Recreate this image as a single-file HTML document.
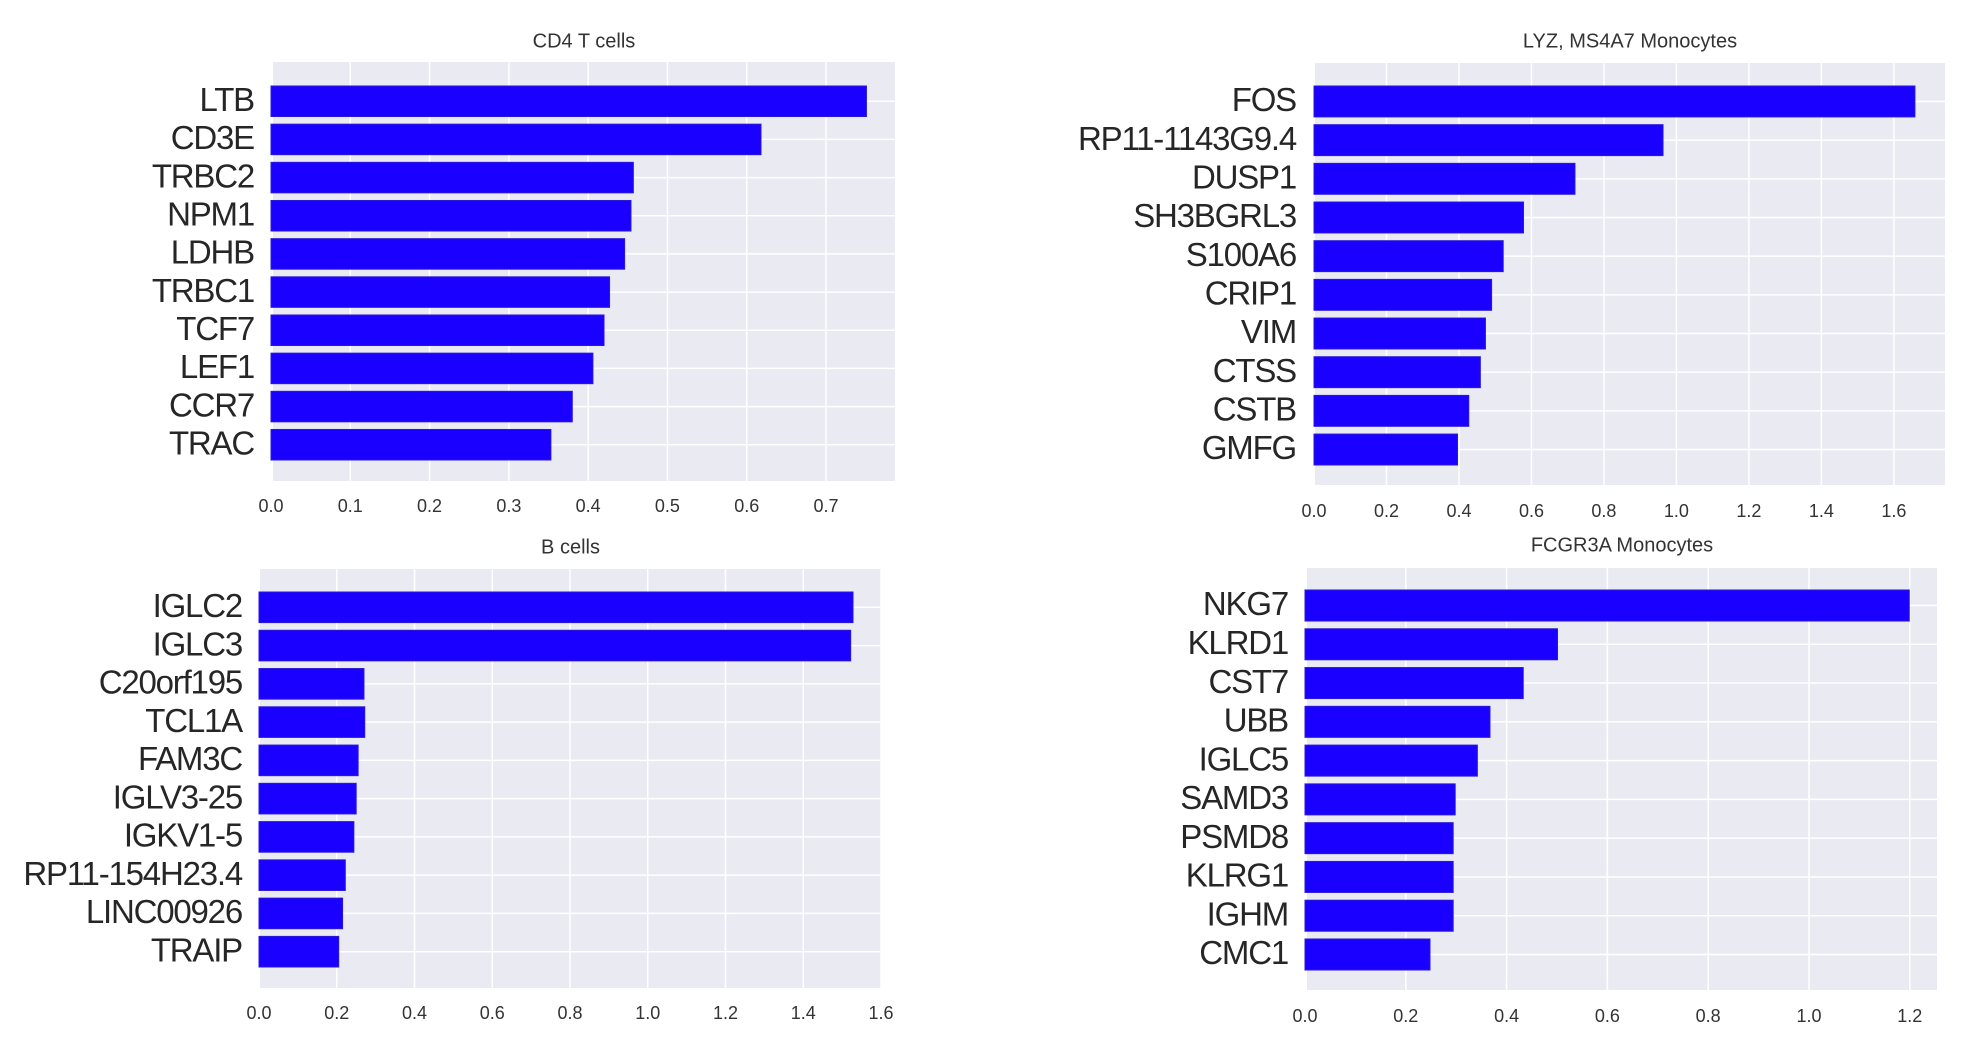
<!DOCTYPE html>
<html><head><meta charset="utf-8"><style>
html,body{margin:0;padding:0;background:#fff;}
svg{display:block;font-family:"Liberation Sans",sans-serif;}
</style></head><body>
<svg id="fig" width="1978" height="1048" viewBox="0 0 1978 1048" xmlns="http://www.w3.org/2000/svg"></svg>
<script>
const cd4Genes=["LTB","CD3E","TRBC2","NPM1","LDHB","TRBC1","TCF7","LEF1","CCR7","TRAC"];
const cd4Values=[0.751,0.618,0.457,0.454,0.446,0.427,0.420,0.406,0.380,0.353];
const cd4Ticks=[0,0.1,0.2,0.3,0.4,0.5,0.6,0.7];
const cd4TickLabels=["0.0","0.1","0.2","0.3","0.4","0.5","0.6","0.7"];

const lyzGenes=["FOS","RP11-1143G9.4","DUSP1","SH3BGRL3","S100A6","CRIP1","VIM","CTSS","CSTB","GMFG"];
const lyzValues=[1.658,0.963,0.72,0.578,0.522,0.49,0.473,0.459,0.427,0.396];
const lyzTicks=[0,0.2,0.4,0.6,0.8,1.0,1.2,1.4,1.6];
const lyzTickLabels=["0.0","0.2","0.4","0.6","0.8","1.0","1.2","1.4","1.6"];

const bGenes=["IGLC2","IGLC3","C20orf195","TCL1A","FAM3C","IGLV3-25","IGKV1-5","RP11-154H23.4","LINC00926","TRAIP"];
const bValues=[1.528,1.522,0.27,0.272,0.255,0.25,0.244,0.222,0.215,0.205];
const bTicks=[0,0.2,0.4,0.6,0.8,1.0,1.2,1.4,1.6];
const bTickLabels=["0.0","0.2","0.4","0.6","0.8","1.0","1.2","1.4","1.6"];

const fcGenes=["NKG7","KLRD1","CST7","UBB","IGLC5","SAMD3","PSMD8","KLRG1","IGHM","CMC1"];
const fcValues=[1.199,0.501,0.433,0.367,0.342,0.298,0.294,0.294,0.294,0.248];
const fcTicks=[0,0.2,0.4,0.6,0.8,1.0,1.2];
const fcTickLabels=["0.0","0.2","0.4","0.6","0.8","1.0","1.2"];

const NS="http://www.w3.org/2000/svg";
const svg=document.getElementById("fig");
function mk(tag,attrs,parent){const e=document.createElementNS(NS,tag);for(const k in attrs)e.setAttribute(k,attrs[k]);(parent||svg).appendChild(e);return e;}

function panel(key,title,genes,values,ticks,tickLabels,L,R,T,B,x0,xmax,barTop,barBot,titleY,tickY,labelRight){
  const g=mk("g",{});
  
  
  const bg=mk("rect",{x:L,y:T,width:R-L,height:B-T,fill:"#eaeaf2"},g);
  
  
  const xs=v=>x0+v*(R-x0)/xmax;
  const n=genes.length;
  const pitch=(barBot-barTop)/(n-1+0.8);
  const cy=i=>barTop+pitch*0.4+i*pitch;
  ticks.forEach((t,i)=>{
    const ln=mk("line",{x1:xs(t),x2:xs(t),y1:T,y2:B,stroke:"#fff","stroke-width":1.5},g);
    
    
    const tx=mk("text",{x:xs(t),y:tickY,"font-size":18,fill:"#333","text-anchor":"middle","dominant-baseline":"middle"},g);
    tx.textContent=tickLabels[i];
    
    
  });
  genes.forEach((gname,i)=>{
    const ln=mk("line",{x1:L,x2:R,y1:cy(i),y2:cy(i),stroke:"#fff","stroke-width":1.5},g);
    
    
  });
  genes.forEach((gname,i)=>{
    const r=mk("rect",{x:xs(0),y:cy(i)-pitch*0.4,width:xs(values[i])-xs(0),height:pitch*0.8,fill:"#1a00ff",stroke:"#2a18d8","stroke-width":1},g);
    
    
    const t=mk("text",{x:labelRight,y:cy(i)+1,"font-size":33,fill:"#262626","text-anchor":"end","dominant-baseline":"middle","letter-spacing":"-1.2"},g);
    t.textContent=gname;
    
    
  });
  const tt=mk("text",{x:(L+R)/2,y:titleY,"font-size":20,fill:"#333","text-anchor":"middle","dominant-baseline":"middle"},g);
  tt.textContent=title;
  
  
}
panel("cd4","CD4 T cells",cd4Genes,cd4Values,cd4Ticks,cd4TickLabels,273,895,62,481,271,0.787,86,460,42,507,254);
panel("lyz","LYZ, MS4A7 Monocytes",lyzGenes,lyzValues,lyzTicks,lyzTickLabels,1315,1945,63,485,1314,1.741,86,465,42,512,1296);
panel("bcells","B cells",bGenes,bValues,bTicks,bTickLabels,260,881,569,988,259,1.6,592,967,548,1014,242);
panel("fcgr3a","FCGR3A Monocytes",fcGenes,fcValues,fcTicks,fcTickLabels,1307,1937,568,990,1305,1.254,590,970,546,1017,1288);
</script>
</body></html>
